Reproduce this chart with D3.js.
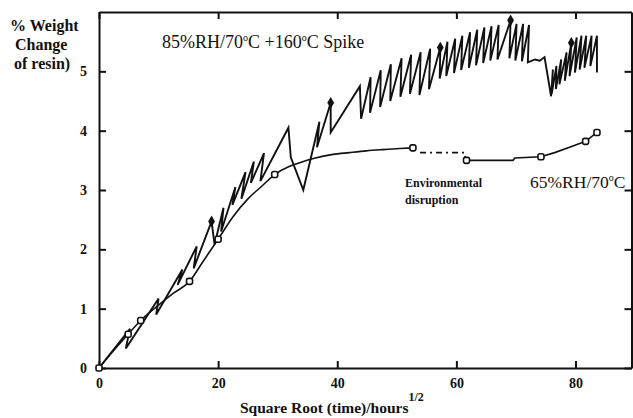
<!DOCTYPE html>
<html>
<head>
<meta charset="utf-8">
<script src="https://cdn.jsdelivr.net/npm/d3@7"></script>
<style>
  body { margin: 0; background: #fff; }
  svg { display: block; }
  text { font-family: "Liberation Serif", "Times New Roman", serif; fill: #111; }
</style>
</head>
<body>
<div id="chart"></div>
<script>
// 85%RH/70C + 160C spike series (sawtooth), [sqrt(h), % weight]
const spikeX = [0, 5.2, 4.5, 10.0, 9.6, 14.0, 13.2, 16.4, 15.9, 18.9, 19.4, 20.9, 20.5, 22.9, 22.4, 24.6, 23.9, 26.0, 25.5, 27.7, 27.1,
  31.8, 32.2, 34.3, 37.0, 36.6, 38.9, 38.9, 43.8, 44.0, 45.6, 45.5, 47.3, 47.2, 49.0, 48.9, 50.8, 50.6, 52.4, 52.2, 54.0, 53.8,
  55.6, 55.4, 57.3, 57.2, 58.5, 58.3, 59.8, 59.6, 61.0, 60.8, 62.3, 62.1, 63.5, 63.3, 64.7, 64.5, 65.9, 65.7, 67.1, 66.9,
  69.1, 68.9, 70.1, 69.9, 71.2, 71.0, 72.2, 72.0, 73.2, 74.0, 74.8, 75.9, 76.2, 76.0, 76.8, 76.7, 77.6, 77.3, 78.5, 78.2,
  79.3, 79.0, 80.2, 79.9, 81.0, 80.7, 81.8, 81.5, 82.7, 82.5, 83.6, 83.6];
const spikeY = [0, 0.66, 0.33, 1.17, 0.90, 1.66, 1.40, 2.05, 1.68, 2.47, 2.08, 2.70, 2.30, 3.05, 2.75, 3.30, 2.85, 3.48, 3.12, 3.62, 3.15,
  4.05, 3.55, 3.00, 4.15, 3.72, 4.47, 3.97, 4.75, 4.20, 4.90, 4.30, 5.02, 4.40, 5.12, 4.50, 5.22, 4.57, 5.28, 4.62, 5.32, 4.60,
  5.38, 4.70, 5.40, 4.88, 5.50, 4.92, 5.55, 4.97, 5.60, 5.02, 5.66, 5.06, 5.70, 5.10, 5.74, 5.14, 5.76, 5.18, 5.78, 5.20,
  5.86, 5.22, 5.80, 5.18, 5.80, 5.17, 5.78, 5.15, 5.20, 5.18, 5.24, 4.58, 5.03, 4.62, 5.09, 4.70, 5.20, 4.78, 5.32, 4.84,
  5.48, 4.92, 5.57, 4.98, 5.60, 5.03, 5.60, 5.06, 5.60, 5.09, 5.60, 4.98];
const spikeMarkX = [18.9, 38.9, 57.3, 69.1, 79.3];
const spikeMarkY = [2.47, 4.47, 5.40, 5.86, 5.48];

// 65%RH/70C series (smooth curve), first part, disruption gap, second part
const rh65aX = [0, 2.5, 4.9, 7.0, 10, 12.5, 15.2, 17.5, 20, 22.5, 25, 27.5, 29.5, 32, 33.7, 36, 39.3, 42, 44.9, 47.5, 50.5, 52.7];
const rh65aY = [0, 0.30, 0.57, 0.80, 1.06, 1.26, 1.46, 1.80, 2.17, 2.55, 2.85, 3.08, 3.26, 3.40, 3.46, 3.53, 3.60, 3.63, 3.66, 3.68, 3.70, 3.71];
const gapX = [53.9, 61.4, 61.5];
const gapY = [3.63, 3.63, 3.52];
const rh65bX = [61.7, 65, 69.5, 69.8, 74.2, 76.5, 79, 81.7, 83.6];
const rh65bY = [3.50, 3.50, 3.50, 3.54, 3.56, 3.63, 3.72, 3.82, 3.97];
const rh65MarkX = [0, 4.9, 7.0, 15.2, 20, 29.5, 52.7, 61.7, 74.2, 81.7, 83.6];
const rh65MarkY = [0, 0.57, 0.80, 1.46, 2.17, 3.26, 3.71, 3.50, 3.56, 3.82, 3.97];

const xTicks = [0, 20, 40, 60, 80];
const yTicks = [0, 1, 2, 3, 4, 5];

const width = 633, height = 418;
const margin = { top: 12, right: 1.5, bottom: 50, left: 99 };

const svg = d3.select('#chart').append('svg')
  .attr('width', width)
  .attr('height', height);

const x = d3.scaleLinear().domain([0, 89.4]).range([margin.left, width - margin.right]);
const y = d3.scaleLinear().domain([0, 6]).range([height - margin.bottom, margin.top]);

const pts = (xs, ys) => xs.map((v, i) => [v, ys[i]]);
const line = d3.line().x(d => x(d[0])).y(d => y(d[1]));

// axes (bottom / left with labels, top / right ticks only)
const axisStyle = g => {
  g.select('.domain').attr('stroke', '#111').attr('stroke-width', 2);
  g.selectAll('.tick line').attr('stroke', '#111').attr('stroke-width', 2);
  g.selectAll('.tick text')
    .attr('font-family', '"Liberation Serif", serif')
    .attr('font-size', 14).attr('font-weight', 'bold').attr('fill', '#111');
};

svg.append('g')
  .attr('transform', `translate(0,${y(0)})`)
  .call(d3.axisBottom(x).tickValues(xTicks).tickSize(-7).tickPadding(6).tickSizeOuter(0))
  .call(axisStyle)
  .selectAll('.tick text').attr('dy', '1.0em');

svg.append('g')
  .attr('transform', `translate(0,${y(6)})`)
  .call(d3.axisTop(x).tickValues(xTicks).tickSize(-7).tickFormat('').tickSizeOuter(0))
  .call(axisStyle);

svg.append('g')
  .attr('transform', `translate(${x(0)},0)`)
  .call(d3.axisLeft(y).tickValues(yTicks).tickSize(-7).tickPadding(12).tickFormat(d3.format('d')).tickSizeOuter(0))
  .call(axisStyle);

svg.append('g')
  .attr('transform', `translate(${x(89.4)},0)`)
  .call(d3.axisRight(y).tickValues(yTicks).tickSize(-7).tickFormat('').tickSizeOuter(0))
  .call(axisStyle);

// series lines
svg.append('path')
  .datum(pts(spikeX, spikeY))
  .attr('d', line)
  .attr('fill', 'none').attr('stroke', '#111').attr('stroke-width', 1.9).attr('stroke-linejoin', 'miter');

svg.append('path')
  .datum(pts(rh65aX, rh65aY))
  .attr('d', line.curve(d3.curveMonotoneX))
  .attr('fill', 'none').attr('stroke', '#111').attr('stroke-width', 1.6);
line.curve(d3.curveLinear);

svg.append('path')
  .datum(pts(gapX, gapY))
  .attr('d', line)
  .attr('fill', 'none').attr('stroke', '#111').attr('stroke-width', 1.6)
  .attr('stroke-dasharray', '6,4,2,4');

svg.append('path')
  .datum(pts(rh65bX, rh65bY))
  .attr('d', line)
  .attr('fill', 'none').attr('stroke', '#111').attr('stroke-width', 1.6);

// markers
svg.selectAll('.mk65')
  .data(pts(rh65MarkX, rh65MarkY))
  .enter().append('rect')
  .attr('x', d => x(d[0]) - 3)
  .attr('y', d => y(d[1]) - 3)
  .attr('width', 6).attr('height', 6).attr('rx', 2)
  .attr('fill', '#fff').attr('stroke', '#111').attr('stroke-width', 1.6);

svg.selectAll('.mkSpike')
  .data(pts(spikeMarkX, spikeMarkY))
  .enter().append('path')
  .attr('transform', d => `translate(${x(d[0])},${y(d[1])})`)
  .attr('d', d3.symbol(d3.symbolDiamond, 40))
  .attr('fill', '#111');

// annotations
const ylab = svg.append('text')
  .attr('font-size', 16).attr('font-weight', 'bold');
ylab.append('tspan').attr('x', 10).attr('y', 31).text('% Weight');
ylab.append('tspan').attr('x', 15).attr('y', 50).text('Change');
ylab.append('tspan').attr('x', 14).attr('y', 69).text('of resin)');

const xlab = svg.append('text')
  .attr('x', 240).attr('y', 413)
  .attr('font-size', 15.5).attr('font-weight', 'bold');
xlab.append('tspan').text('Square Root (time)/hours');
xlab.append('tspan').attr('dy', -12).attr('font-size', 12).text('1/2');

const t1 = svg.append('text')
  .attr('x', 162).attr('y', 48)
  .attr('font-size', 18);
t1.append('tspan').text('85%RH/70');
t1.append('tspan').attr('dy', -7).attr('font-size', 10).text('o');
t1.append('tspan').attr('dy', 7).text('C +160');
t1.append('tspan').attr('dy', -7).attr('font-size', 10).text('o');
t1.append('tspan').attr('dy', 7).text('C Spike');

const t2 = svg.append('text')
  .attr('x', 530).attr('y', 188)
  .attr('font-size', 17.5);
t2.append('tspan').text('65%RH/70');
t2.append('tspan').attr('dy', -7).attr('font-size', 10).text('o');
t2.append('tspan').attr('dy', 7).text('C');

const t3 = svg.append('text')
  .attr('font-size', 12).attr('font-weight', 'bold');
t3.append('tspan').attr('x', 405).attr('y', 187).text('Environmental');
t3.append('tspan').attr('x', 405).attr('y', 204).text('disruption');
</script>
</body>
</html>
